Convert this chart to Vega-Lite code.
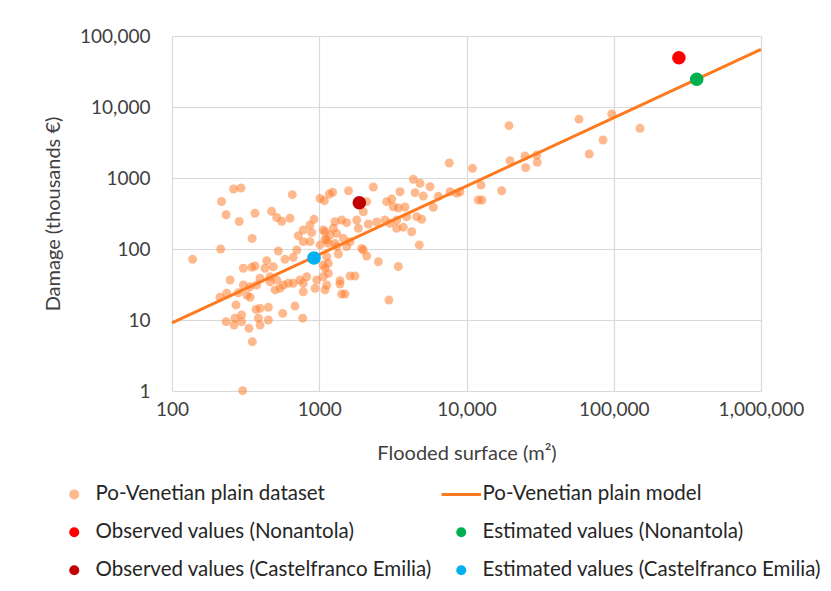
{
  "$schema": "https://vega.github.io/schema/vega-lite/v6.json",
  "width": 589,
  "height": 355,
  "autosize": {"type": "none"},
  "padding": {"left": 172, "top": 36, "right": 70, "bottom": 200},
  "background": "white",
  "config": {
    "view": {"stroke": null},
    "font": "Lato",
    "axis": {
      "labelFont": "Lato", "labelFontSize": 19, "labelColor": "#404040",
      "titleFont": "Lato", "titleFontSize": 20, "titleFontWeight": "normal", "titleColor": "#404040",
      "grid": true, "gridColor": "#d9d9d9", "gridWidth": 1.2,
      "domain": false, "ticks": false, "tickSize": 0
    }
  },
  "data": {"values": [
    {"area":138,"damage":71.6,"series":"Po-Venetian plain dataset"},
    {"area":214,"damage":100,"series":"Po-Venetian plain dataset"},
    {"area":217,"damage":467,"series":"Po-Venetian plain dataset"},
    {"area":233,"damage":304,"series":"Po-Venetian plain dataset"},
    {"area":262,"damage":700,"series":"Po-Venetian plain dataset"},
    {"area":294,"damage":723,"series":"Po-Venetian plain dataset"},
    {"area":286,"damage":244,"series":"Po-Venetian plain dataset"},
    {"area":350,"damage":141,"series":"Po-Venetian plain dataset"},
    {"area":366,"damage":318,"series":"Po-Venetian plain dataset"},
    {"area":475,"damage":340,"series":"Po-Venetian plain dataset"},
    {"area":514,"damage":278,"series":"Po-Venetian plain dataset"},
    {"area":556,"damage":246,"series":"Po-Venetian plain dataset"},
    {"area":633,"damage":271,"series":"Po-Venetian plain dataset"},
    {"area":656,"damage":582,"series":"Po-Venetian plain dataset"},
    {"area":1012,"damage":514,"series":"Po-Venetian plain dataset"},
    {"area":1082,"damage":479,"series":"Po-Venetian plain dataset"},
    {"area":1170,"damage":595,"series":"Po-Venetian plain dataset"},
    {"area":1234,"damage":629,"series":"Po-Venetian plain dataset"},
    {"area":1580,"damage":662,"series":"Po-Venetian plain dataset"},
    {"area":921,"damage":262,"series":"Po-Venetian plain dataset"},
    {"area":720,"damage":154,"series":"Po-Venetian plain dataset"},
    {"area":779,"damage":185,"series":"Po-Venetian plain dataset"},
    {"area":865,"damage":218,"series":"Po-Venetian plain dataset"},
    {"area":889,"damage":170,"series":"Po-Venetian plain dataset"},
    {"area":779,"damage":127,"series":"Po-Venetian plain dataset"},
    {"area":865,"damage":127,"series":"Po-Venetian plain dataset"},
    {"area":1012,"damage":114,"series":"Po-Venetian plain dataset"},
    {"area":1094,"damage":175,"series":"Po-Venetian plain dataset"},
    {"area":1124,"damage":134,"series":"Po-Venetian plain dataset"},
    {"area":527,"damage":93.7,"series":"Po-Venetian plain dataset"},
    {"area":585,"damage":71.6,"series":"Po-Venetian plain dataset"},
    {"area":666,"damage":76.4,"series":"Po-Venetian plain dataset"},
    {"area":703,"damage":96.8,"series":"Po-Venetian plain dataset"},
    {"area":440,"damage":68.4,"series":"Po-Venetian plain dataset"},
    {"area":428,"damage":53.5,"series":"Po-Venetian plain dataset"},
    {"area":487,"damage":56.3,"series":"Po-Venetian plain dataset"},
    {"area":305,"damage":53.5,"series":"Po-Venetian plain dataset"},
    {"area":348,"damage":55.2,"series":"Po-Venetian plain dataset"},
    {"area":366,"damage":57.6,"series":"Po-Venetian plain dataset"},
    {"area":248,"damage":36.6,"series":"Po-Venetian plain dataset"},
    {"area":396,"damage":38.7,"series":"Po-Venetian plain dataset"},
    {"area":463,"damage":40.7,"series":"Po-Venetian plain dataset"},
    {"area":514,"damage":36.6,"series":"Po-Venetian plain dataset"},
    {"area":616,"damage":32.9,"series":"Po-Venetian plain dataset"},
    {"area":740,"damage":36.6,"series":"Po-Venetian plain dataset"},
    {"area":822,"damage":40.7,"series":"Po-Venetian plain dataset"},
    {"area":961,"damage":36.6,"series":"Po-Venetian plain dataset"},
    {"area":1065,"damage":40.7,"series":"Po-Venetian plain dataset"},
    {"area":1094,"damage":53.5,"series":"Po-Venetian plain dataset"},
    {"area":1124,"damage":31.1,"series":"Po-Venetian plain dataset"},
    {"area":305,"damage":31.1,"series":"Po-Venetian plain dataset"},
    {"area":339,"damage":29.4,"series":"Po-Venetian plain dataset"},
    {"area":376,"damage":31.1,"series":"Po-Venetian plain dataset"},
    {"area":212,"damage":20.9,"series":"Po-Venetian plain dataset"},
    {"area":235,"damage":23.8,"series":"Po-Venetian plain dataset"},
    {"area":282,"damage":24.2,"series":"Po-Venetian plain dataset"},
    {"area":322,"damage":22.5,"series":"Po-Venetian plain dataset"},
    {"area":339,"damage":20.9,"series":"Po-Venetian plain dataset"},
    {"area":272,"damage":16.3,"series":"Po-Venetian plain dataset"},
    {"area":297,"damage":11.8,"series":"Po-Venetian plain dataset"},
    {"area":268,"damage":10.6,"series":"Po-Venetian plain dataset"},
    {"area":233,"damage":9.46,"series":"Po-Venetian plain dataset"},
    {"area":264,"damage":8.5,"series":"Po-Venetian plain dataset"},
    {"area":297,"damage":9.46,"series":"Po-Venetian plain dataset"},
    {"area":333,"damage":7.64,"series":"Po-Venetian plain dataset"},
    {"area":372,"damage":14.1,"series":"Po-Venetian plain dataset"},
    {"area":396,"damage":14.6,"series":"Po-Venetian plain dataset"},
    {"area":451,"damage":15.1,"series":"Po-Venetian plain dataset"},
    {"area":386,"damage":10.6,"series":"Po-Venetian plain dataset"},
    {"area":396,"damage":8.5,"series":"Po-Venetian plain dataset"},
    {"area":451,"damage":10,"series":"Po-Venetian plain dataset"},
    {"area":351,"damage":4.95,"series":"Po-Venetian plain dataset"},
    {"area":302,"damage":1.01,"series":"Po-Venetian plain dataset"},
    {"area":565,"damage":12.4,"series":"Po-Venetian plain dataset"},
    {"area":684,"damage":15.7,"series":"Po-Venetian plain dataset"},
    {"area":772,"damage":10.6,"series":"Po-Venetian plain dataset"},
    {"area":463,"damage":34.6,"series":"Po-Venetian plain dataset"},
    {"area":570,"damage":31.1,"series":"Po-Venetian plain dataset"},
    {"area":501,"damage":26.5,"series":"Po-Venetian plain dataset"},
    {"area":541,"damage":27.9,"series":"Po-Venetian plain dataset"},
    {"area":666,"damage":32.9,"series":"Po-Venetian plain dataset"},
    {"area":779,"damage":32.9,"series":"Po-Venetian plain dataset"},
    {"area":779,"damage":25.0,"series":"Po-Venetian plain dataset"},
    {"area":936,"damage":27.9,"series":"Po-Venetian plain dataset"},
    {"area":1094,"damage":26.5,"series":"Po-Venetian plain dataset"},
    {"area":7640,"damage":1626,"series":"Po-Venetian plain dataset"},
    {"area":10980,"damage":1370,"series":"Po-Venetian plain dataset"},
    {"area":4352,"damage":959,"series":"Po-Venetian plain dataset"},
    {"area":4833,"damage":842,"series":"Po-Venetian plain dataset"},
    {"area":5651,"damage":754,"series":"Po-Venetian plain dataset"},
    {"area":2329,"damage":747,"series":"Po-Venetian plain dataset"},
    {"area":3535,"damage":641,"series":"Po-Venetian plain dataset"},
    {"area":4470,"damage":621,"series":"Po-Venetian plain dataset"},
    {"area":5090,"damage":557,"series":"Po-Venetian plain dataset"},
    {"area":6435,"damage":552,"series":"Po-Venetian plain dataset"},
    {"area":7725,"damage":641,"series":"Po-Venetian plain dataset"},
    {"area":8580,"damage":609,"series":"Po-Venetian plain dataset"},
    {"area":12030,"damage":490,"series":"Po-Venetian plain dataset"},
    {"area":2100,"damage":464,"series":"Po-Venetian plain dataset"},
    {"area":1992,"damage":335,"series":"Po-Venetian plain dataset"},
    {"area":2871,"damage":464,"series":"Po-Venetian plain dataset"},
    {"area":3105,"damage":506,"series":"Po-Venetian plain dataset"},
    {"area":3185,"damage":394,"series":"Po-Venetian plain dataset"},
    {"area":3443,"damage":378,"series":"Po-Venetian plain dataset"},
    {"area":3822,"damage":390,"series":"Po-Venetian plain dataset"},
    {"area":5950,"damage":387,"series":"Po-Venetian plain dataset"},
    {"area":1279,"damage":242,"series":"Po-Venetian plain dataset"},
    {"area":1420,"damage":256,"series":"Po-Venetian plain dataset"},
    {"area":1536,"damage":235,"series":"Po-Venetian plain dataset"},
    {"area":1796,"damage":256,"series":"Po-Venetian plain dataset"},
    {"area":2154,"damage":225,"series":"Po-Venetian plain dataset"},
    {"area":2455,"damage":240,"series":"Po-Venetian plain dataset"},
    {"area":2796,"damage":256,"series":"Po-Venetian plain dataset"},
    {"area":3023,"damage":230,"series":"Po-Venetian plain dataset"},
    {"area":3357,"damage":256,"series":"Po-Venetian plain dataset"},
    {"area":3925,"damage":285,"series":"Po-Venetian plain dataset"},
    {"area":4590,"damage":285,"series":"Po-Venetian plain dataset"},
    {"area":4964,"damage":262,"series":"Po-Venetian plain dataset"},
    {"area":1065,"damage":185,"series":"Po-Venetian plain dataset"},
    {"area":1246,"damage":196,"series":"Po-Venetian plain dataset"},
    {"area":1183,"damage":157,"series":"Po-Venetian plain dataset"},
    {"area":1094,"damage":137,"series":"Po-Venetian plain dataset"},
    {"area":1842,"damage":196,"series":"Po-Venetian plain dataset"},
    {"area":3357,"damage":196,"series":"Po-Venetian plain dataset"},
    {"area":3723,"damage":202,"series":"Po-Venetian plain dataset"},
    {"area":4244,"damage":175,"series":"Po-Venetian plain dataset"},
    {"area":1314,"damage":166,"series":"Po-Venetian plain dataset"},
    {"area":1457,"damage":141.5,"series":"Po-Venetian plain dataset"},
    {"area":1618,"damage":127,"series":"Po-Venetian plain dataset"},
    {"area":1279,"damage":120,"series":"Po-Venetian plain dataset"},
    {"area":1152,"damage":120,"series":"Po-Venetian plain dataset"},
    {"area":1536,"damage":108,"series":"Po-Venetian plain dataset"},
    {"area":1314,"damage":108,"series":"Po-Venetian plain dataset"},
    {"area":1943,"damage":102,"series":"Po-Venetian plain dataset"},
    {"area":1992,"damage":96.8,"series":"Po-Venetian plain dataset"},
    {"area":4780,"damage":114,"series":"Po-Venetian plain dataset"},
    {"area":1124,"damage":78,"series":"Po-Venetian plain dataset"},
    {"area":1348,"damage":85,"series":"Po-Venetian plain dataset"},
    {"area":2100,"damage":79.7,"series":"Po-Venetian plain dataset"},
    {"area":2518,"damage":66.2,"series":"Po-Venetian plain dataset"},
    {"area":3443,"damage":56.7,"series":"Po-Venetian plain dataset"},
    {"area":1065,"damage":59.5,"series":"Po-Venetian plain dataset"},
    {"area":1152,"damage":62.9,"series":"Po-Venetian plain dataset"},
    {"area":1152,"damage":45.5,"series":"Po-Venetian plain dataset"},
    {"area":1383,"damage":35.8,"series":"Po-Venetian plain dataset"},
    {"area":1383,"damage":32.1,"series":"Po-Venetian plain dataset"},
    {"area":1618,"damage":41.7,"series":"Po-Venetian plain dataset"},
    {"area":1749,"damage":41.7,"series":"Po-Venetian plain dataset"},
    {"area":1420,"damage":23.2,"series":"Po-Venetian plain dataset"},
    {"area":1496,"damage":23.2,"series":"Po-Venetian plain dataset"},
    {"area":2976,"damage":19.1,"series":"Po-Venetian plain dataset"},
    {"area":19440,"damage":5454,"series":"Po-Venetian plain dataset"},
    {"area":58070,"damage":6730,"series":"Po-Venetian plain dataset"},
    {"area":96850,"damage":7965,"series":"Po-Venetian plain dataset"},
    {"area":150800,"damage":5012,"series":"Po-Venetian plain dataset"},
    {"area":84500,"damage":3428,"series":"Po-Venetian plain dataset"},
    {"area":68130,"damage":2178,"series":"Po-Venetian plain dataset"},
    {"area":19740,"damage":1753,"series":"Po-Venetian plain dataset"},
    {"area":24960,"damage":2042,"series":"Po-Venetian plain dataset"},
    {"area":29970,"damage":2109,"series":"Po-Venetian plain dataset"},
    {"area":30260,"damage":1663,"series":"Po-Venetian plain dataset"},
    {"area":25230,"damage":1397,"series":"Po-Venetian plain dataset"},
    {"area":12540,"damage":797,"series":"Po-Venetian plain dataset"},
    {"area":17340,"damage":662,"series":"Po-Venetian plain dataset"},
    {"area":12740,"damage":490,"series":"Po-Venetian plain dataset"},
    {"area":9035,"damage":641,"series":"Po-Venetian plain dataset"},
    {"area":100,"damage":9.1,"series":"Po-Venetian plain model"},
    {"area":1000000,"damage":65000,"series":"Po-Venetian plain model"},
    {"area":277000,"damage":49400,"series":"Observed values (Nonantola)"},
    {"area":365800,"damage":24550,"series":"Estimated values (Nonantola)"},
    {"area":1871,"damage":449,"series":"Observed values (Castelfranco Emilia)"},
    {"area":921,"damage":74.7,"series":"Estimated values (Castelfranco Emilia)"}
  ]},
  "encoding": {
    "x": {
      "field": "area", "type": "quantitative",
      "scale": {"type": "log", "domain": [100, 1000000], "nice": false},
      "axis": {
        "title": "Flooded surface (m²)",
        "values": [100, 1000, 10000, 100000, 1000000],
        "labelExpr": "datum.value >= 10000 ? format(datum.value, ',') : format(datum.value, 'd')",
        "labelPadding": 9, "titlePadding": 24, "labelFlush": false
      }
    },
    "y": {
      "field": "damage", "type": "quantitative",
      "scale": {"type": "log", "domain": [1, 100000], "nice": false},
      "axis": {
        "title": "Damage (thousands €)",
        "values": [1, 10, 100, 1000, 10000, 100000],
        "labelExpr": "datum.value >= 10000 ? format(datum.value, ',') : format(datum.value, 'd')",
        "labelPadding": 22, "titlePadding": 16, "labelFlush": false
      }
    },
    "color": {
      "field": "series", "type": "nominal",
      "scale": {
        "domain": ["Po-Venetian plain dataset", "Po-Venetian plain model", "Observed values (Nonantola)", "Estimated values (Nonantola)", "Observed values (Castelfranco Emilia)", "Estimated values (Castelfranco Emilia)"],
        "range": ["#FF7F32", "#FF7A1F", "#FF0000", "#00B050", "#C00000", "#00B0F0"]
      },
      "legend": {
        "title": null, "orient": "none", "legendX": -108, "legendY": 448,
        "direction": "horizontal",
        "columns": 2, "columnPadding": 3, "rowPadding": 17, "padding": 0,
        "labelFont": "Lato", "labelFontSize": 20.5, "labelColor": "#262626", "labelLimit": 0,
        "labelOffset": 11, "symbolSize": 100, "symbolStrokeWidth": 0,
        "encode": {"symbols": {"update": {
          "size": {"signal": "datum.value === 'Po-Venetian plain model' ? 1560 : 100"},
          "shape": {"signal": "datum.value === 'Po-Venetian plain model' ? 'stroke' : 'circle'"},
          "stroke": {"signal": "datum.value === 'Po-Venetian plain model' ? '#FF7A1F' : 'transparent'"},
          "strokeWidth": {"signal": "datum.value === 'Po-Venetian plain model' ? 3 : 0"},
          "fill": {"scale": "color", "field": "value"},
          "opacity": {"signal": "datum.value === 'Po-Venetian plain dataset' ? 0.55 : 1"}
        }}}
      }
    }
  },
  "layer": [
    {
      "transform": [{"filter": "datum.series === 'Po-Venetian plain dataset'"}],
      "mark": {"type": "point", "filled": true, "shape": "circle", "size": 80, "opacity": 0.55, "strokeWidth": 0}
    },
    {
      "transform": [{"filter": "datum.series === 'Po-Venetian plain model'"}],
      "mark": {"type": "line", "strokeWidth": 3}
    },
    {
      "transform": [{"filter": "datum.series !== 'Po-Venetian plain dataset' && datum.series !== 'Po-Venetian plain model'"}],
      "mark": {"type": "point", "filled": true, "shape": "circle", "size": 185, "opacity": 1, "strokeWidth": 0}
    }
  ]
}
